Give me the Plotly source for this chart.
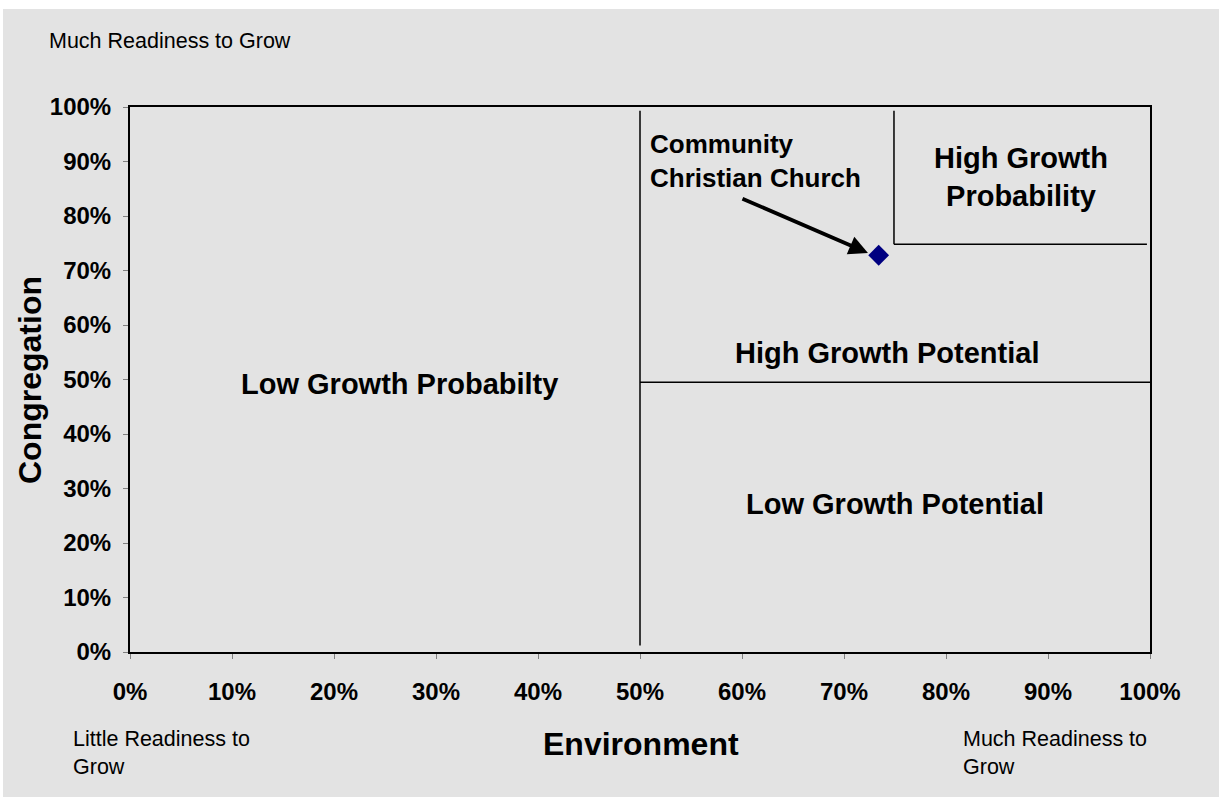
import plotly.graph_objects as go

# Data
church_name = ["Community<br>Christian Church"]
environment = [0.734]
congregation = [0.728]

tick_vals = [0, 0.1, 0.2, 0.3, 0.4, 0.5, 0.6, 0.7, 0.8, 0.9, 1.0]
tick_text = ["0%", "10%", "20%", "30%", "40%", "50%", "60%", "70%", "80%", "90%", "100%"]

# quadrant dividers (data coordinates)
div_v50_x = [0.5, 0.5]
div_v50_y = [0.012, 0.993]
div_h50_x = [0.5, 1.0]
div_h50_y = [0.495, 0.495]
div_v75_x = [0.749, 0.749]
div_v75_y = [0.748, 0.993]
div_h75_x = [0.749, 0.997]
div_h75_y = [0.748, 0.748]

region_labels = ["Low Growth Probabilty", "High Growth Potential", "Low Growth Potential",
                 "High Growth<br>Probability"]
region_x = [0.264, 0.743, 0.75, 0.874]
region_y = [0.492, 0.5495, 0.2716, 0.871]

arrow_tail = (0.599, 0.833)
arrow_head = (0.7235, 0.732)

W, H = 1225, 797
L, R, T, B = 130, 75, 107, 145
pw, ph = W - L - R, H - T - B

def px_x(p):
    return (p - L) / pw

def px_y(p):
    return (H - B - p) / ph

FONT = "Liberation Sans, Arial, sans-serif"

fig = go.Figure()

for xs, ys in [(div_v50_x, div_v50_y), (div_h50_x, div_h50_y), (div_v75_x, div_v75_y), (div_h75_x, div_h75_y)]:
    fig.add_trace(go.Scatter(x=xs, y=ys, mode="lines", line=dict(color="black", width=1.5),
                             hoverinfo="skip", showlegend=False))

fig.add_trace(go.Scatter(x=environment, y=congregation, mode="markers",
                         marker=dict(symbol="diamond", size=16, color="#000080",
                                     line=dict(width=0)),
                         showlegend=False))

# background panel
fig.add_shape(type="rect", xref="paper", yref="paper",
              x0=px_x(3), x1=px_x(1219), y0=px_y(797), y1=px_y(9),
              fillcolor="#e3e3e3", line=dict(width=0), layer="below")

annotations = []
for t, x, y in zip(region_labels, region_x, region_y):
    annotations.append(dict(x=x, y=y, xref="x", yref="y", text=f"<b>{t}</b>", showarrow=False,
                            xanchor="center", yanchor="middle",
                            font=dict(size=29, color="black", family=FONT), align="center"))

annotations.append(dict(x=0.508, y=0.901, xref="x", yref="y", text=f"<b>{church_name[0]}</b>",
                        showarrow=False, xanchor="left", yanchor="middle", align="left",
                        font=dict(size=26, color="black", family=FONT)))

annotations.append(dict(x=arrow_head[0], y=arrow_head[1], ax=arrow_tail[0], ay=arrow_tail[1],
                        xref="x", yref="y", axref="x", ayref="y", text="", showarrow=True,
                        arrowhead=2, arrowsize=1.0, arrowwidth=3.8, arrowcolor="black", standoff=0))

# axis titles and corner notes
annotations.append(dict(x=px_x(30), y=px_y(380), xref="paper", yref="paper", text="<b>Congregation</b>",
                        textangle=-90, showarrow=False, xanchor="center", yanchor="middle",
                        font=dict(size=32, color="black", family=FONT)))
annotations.append(dict(x=px_x(641), y=px_y(744), xref="paper", yref="paper", text="<b>Environment</b>",
                        showarrow=False, xanchor="center", yanchor="middle",
                        font=dict(size=32, color="black", family=FONT)))
annotations.append(dict(x=px_x(47), y=px_y(41), xref="paper", yref="paper", text="Much Readiness to Grow",
                        showarrow=False, xanchor="left", yanchor="middle",
                        font=dict(size=21.5, color="black", family=FONT)))
annotations.append(dict(x=px_x(71), y=px_y(753), xref="paper", yref="paper",
                        text="Little Readiness to<br>Grow", showarrow=False, xanchor="left", yanchor="middle",
                        align="left", font=dict(size=21.5, color="black", family=FONT)))
annotations.append(dict(x=px_x(961), y=px_y(753), xref="paper", yref="paper",
                        text="Much Readiness to<br>Grow", showarrow=False, xanchor="left", yanchor="middle",
                        align="left", font=dict(size=21.5, color="black", family=FONT)))

axis_common = dict(range=[0, 1], tickvals=tick_vals, ticktext=[f"<b>{t}</b>" for t in tick_text],
                   showgrid=False, zeroline=False, showline=True, linecolor="black", linewidth=2,
                   mirror=True, ticks="outside", ticklen=5, tickcolor="#808080", tickwidth=1,
                   tickfont=dict(size=24, color="black", family=FONT), fixedrange=True)

fig.update_layout(
    width=W, height=H,
    margin=dict(l=L, r=R, t=T, b=B),
    paper_bgcolor="white",
    plot_bgcolor="rgba(0,0,0,0)",
    xaxis=dict(**axis_common, ticklabelstandoff=12),
    yaxis=dict(**axis_common, ticklabelstandoff=7),
    annotations=annotations,
    showlegend=False,
)

fig.write_html("out.html")
